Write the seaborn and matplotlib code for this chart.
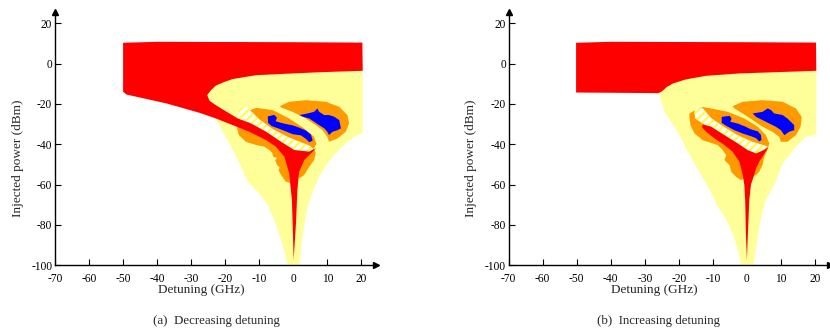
import matplotlib
matplotlib.use("Agg")
import matplotlib.pyplot as plt
import seaborn as sns

sns.set_style("ticks")
plt.rcParams['font.family'] = ['Liberation Serif', 'DejaVu Serif']
plt.rcParams['axes.unicode_minus'] = False
plt.rcParams['hatch.linewidth'] = 1.5

# axis ticks
x_ticks = [-70, -60, -50, -40, -30, -20, -10, 0, 10, 20]
y_ticks = [-100, -80, -60, -40, -20, 0, 20]

# region outlines: (detuning GHz, injected power dBm)
# (a) decreasing detuning
a_yellow = [(-26.0, -20.0), (-26.0, -6.0), (20.4, -2.0), (20.4, -34.6), (18.8, -35.4),
            (15.4, -39.6), (12.5, -44.5), (10.0, -49.5), (7.6, -56.1), (5.7, -63.6),
            (4.2, -71.0), (3.2, -81.0), (2.3, -90.9), (1.8, -100), (-1.7, -100),
            (-2.2, -95.9), (-3.6, -87.6), (-5.6, -77.6), (-7.5, -70.0), (-10.5, -63.6),
            (-13.4, -58.6), (-15.8, -49.5), (-18.8, -39.6), (-21.2, -32.1),
            (-22.7, -27.7), (-24.5, -25.0)]
a_red = [(-50.0, 10.4), (-40.0, 10.9), (0.0, 10.7), (20.3, 10.5), (20.4, -3.5),
         (8.0, -4.2), (-1.2, -4.9), (-11.0, -5.7), (-17.8, -7.6), (-20.2, -9.0),
         (-22.7, -10.8), (-24.1, -13.0), (-25.3, -15.6), (-24.6, -18.4), (-23.1, -20.2),
         (-21.2, -22.2), (-16.3, -27.2), (-12.4, -29.7), (-8.0, -33.8), (-3.6, -38.8),
         (0.3, -42.9), (4.7, -43.7), (6.7, -41.9), (5.3, -44.4), (3.2, -47.9),
         (1.7, -53.8), (1.2, -62.8), (0.8, -79.1), (0.1, -97.5), (-0.1, -84.3),
         (-0.4, -67.7), (-1.2, -54.5), (-2.6, -46.2), (-5.1, -41.2), (-8.0, -37.9),
         (-12.9, -33.8), (-17.8, -30.5), (-22.7, -27.2), (-27.5, -24.4),
         (-37.3, -19.7), (-49.0, -15.3), (-50.0, -13.9)]
a_orange_l = [(-13.9, -23.9), (-10.9, -21.9), (-6.1, -23.0), (-1.2, -27.2), (3.2, -32.1),
              (6.1, -36.3), (6.8, -39.6), (6.1, -42.1), (6.6, -44.5), (6.1, -47.9),
              (4.7, -51.2), (3.2, -55.3), (1.7, -57.0), (0.8, -54.5), (-0.7, -59.4),
              (-2.2, -58.6), (-3.6, -55.3), (-4.3, -53.0), (-4.0, -51.5), (-4.8, -50.3),
              (-5.3, -48.0), (-4.8, -46.8), (-5.9, -46.2), (-6.2, -44.3), (-7.0, -42.9),
              (-8.5, -41.2), (-10.9, -40.4), (-13.9, -38.8), (-16.0, -35.4),
              (-16.5, -32.1), (-15.8, -29.7), (-14.4, -27.2)]
a_orange_r = [(-3.9, -21.0), (-1.2, -18.9), (3.7, -18.1), (9.6, -18.9), (13.5, -21.4),
              (15.9, -25.5), (16.4, -29.7), (15.4, -33.8), (13.0, -37.1), (10.5, -38.8),
              (10.0, -36.3), (8.6, -33.0), (6.6, -30.5), (3.7, -27.2), (-0.2, -23.9),
              (-3.6, -21.7)]
a_hatch = [(-15.8, -20.9), (-13.4, -21.9), (-10.0, -27.6), (-6.1, -32.4), (-1.7, -36.3),
           (2.2, -39.0), (4.7, -40.6), (6.0, -42.3), (4.7, -43.7), (0.3, -42.9),
           (-3.6, -38.8), (-8.0, -33.8), (-12.4, -29.7), (-16.3, -27.2)]
a_blue_l = [(-7.5, -26.2), (-5.6, -25.4), (-4.8, -26.8), (-5.2, -28.6), (-2.6, -29.8),
            (-0.2, -30.6), (1.8, -31.8), (3.7, -33.2), (5.2, -35.2), (5.7, -38.2),
            (4.7, -39.0), (3.7, -37.3), (2.3, -35.6), (-0.2, -35.0), (-2.2, -33.6),
            (-4.3, -32.2), (-6.3, -31.0), (-7.4, -29.4)]
a_blue_r = [(1.8, -25.5), (4.2, -24.7), (6.1, -23.9), (7.1, -22.2), (7.6, -23.9),
            (9.1, -25.5), (10.5, -25.5), (12.0, -26.3), (13.5, -28.0), (14.0, -32.1),
            (13.0, -33.0), (11.5, -33.8), (10.5, -35.4), (10.0, -33.8), (9.1, -32.1),
            (7.6, -30.5), (6.1, -28.8), (4.7, -27.2), (2.8, -26.3)]

# (b) increasing detuning
b_yellow = [(-26.5, -12.0), (-26.5, -6.0), (20.4, -2.0), (20.4, -35.5), (17.3, -36.3),
            (14.4, -41.3), (10.5, -49.5), (8.5, -58.6), (5.5, -68.0), (4.0, -77.7),
            (2.9, -89.3), (2.0, -100), (-1.7, -100), (-2.4, -94.0), (-4.2, -84.3),
            (-6.5, -76.0), (-8.6, -71.0), (-10.5, -64.0), (-12.5, -58.0), (-14.0, -53.7),
            (-17.4, -43.7), (-20.3, -33.8), (-24.2, -23.9), (-25.7, -15.6), (-26.2, -14.4)]
b_red_top = [(-50.2, 10.4), (-40.0, 10.9), (0.0, 10.7), (20.3, 10.5), (20.4, -3.5),
             (8.5, -4.2), (-2.0, -4.8), (-12.0, -6.0), (-18.0, -7.8), (-21.7, -9.8),
             (-23.5, -11.5), (-25.0, -13.8), (-26.0, -14.6), (-50.2, -14.3)]
b_orange_l = [(-16.9, -24.7), (-13.4, -21.4), (-10.5, -22.2), (-5.6, -23.9), (-0.75, -27.2),
              (3.2, -31.3), (5.6, -35.5), (6.6, -39.6), (6.0, -43.0), (5.1, -46.2),
              (4.6, -50.4), (3.6, -53.7), (2.7, -55.3), (1.0, -56.0), (-1.7, -57.8),
              (-3.2, -56.2), (-4.6, -53.7), (-5.1, -50.4), (-6.6, -47.9), (-6.1, -45.4),
              (-7.1, -42.9), (-8.6, -40.4), (-10.0, -39.6), (-13.0, -38.0),
              (-15.4, -34.6), (-16.6, -30.5), (-16.9, -26.4)]
b_orange_r = [(-4.2, -21.1), (-1.25, -18.9), (4.6, -18.1), (10.5, -18.9), (14.4, -22.2),
              (16.1, -26.4), (15.8, -31.3), (14.4, -35.5), (11.9, -38.8), (10.0, -38.8),
              (9.5, -36.3), (7.5, -33.8), (4.6, -31.3), (1.7, -28.0), (-1.25, -24.7),
              (-3.7, -22.2)]
b_hatch = [(-14.4, -20.6), (-12.9, -22.2), (-10.5, -27.0), (-6.6, -31.5), (-2.7, -35.5),
           (1.2, -38.5), (3.6, -39.8), (6.1, -41.0), (4.6, -43.2), (2.7, -44.6),
           (0.2, -42.9), (-2.7, -39.6), (-6.6, -35.5), (-10.5, -31.3), (-12.5, -30.2),
           (-15.2, -27.2), (-15.4, -23.9)]
b_red_in = [(-13.0, -30.2), (-10.5, -31.3), (-6.6, -35.5), (-2.7, -39.6), (0.2, -42.9),
            (2.7, -44.6), (4.6, -43.2), (6.2, -41.8), (4.6, -46.2), (3.6, -48.7),
            (2.7, -52.0), (2.0, -56.0), (1.2, -60.0), (0.7, -67.7), (0.3, -84.3),
            (0.0, -97.6), (-0.3, -84.0), (-0.5, -67.7), (-0.75, -60.3), (-1.2, -55.3),
            (-2.2, -48.7), (-4.2, -43.7), (-6.6, -40.4), (-9.5, -37.1), (-12.0, -33.8),
            (-13.2, -31.5)]
b_blue_l = [(-7.4, -26.4), (-5.1, -25.9), (-4.5, -27.2), (-4.9, -28.8), (-2.7, -29.7),
            (-0.75, -31.0), (1.2, -32.6), (3.2, -33.6), (4.1, -35.3), (4.3, -37.9),
            (3.6, -38.6), (2.7, -37.0), (1.2, -36.0), (-1.2, -34.7), (-3.7, -33.0),
            (-6.1, -30.8), (-7.4, -29.4)]
b_blue_r = [(1.7, -24.7), (4.6, -23.9), (6.1, -22.2), (7.1, -23.0), (8.0, -24.7),
            (10.5, -25.5), (11.9, -27.2), (13.9, -30.5), (13.9, -33.0), (12.4, -33.8),
            (11.0, -35.5), (10.0, -33.0), (8.5, -31.3), (6.6, -29.7), (4.6, -28.0),
            (2.7, -26.4)]

YELLOW = '#ffff99'
RED = '#ff0000'
ORANGE = '#ff9900'
BLUE = '#0000ff'


def region(ax, pts, color, hatch=None):
    xs = [p[0] for p in pts]
    ys = [p[1] for p in pts]
    if hatch:
        ax.fill(xs, ys, facecolor='white', edgecolor='#ffff33', hatch=hatch, linewidth=0)
    else:
        ax.fill(xs, ys, color=color, linewidth=0)


def style_axes(ax):
    ax.set_xlim(-70, 24.3)
    ax.set_ylim(-100, 25.8)
    ax.set_xticks(x_ticks)
    ax.set_yticks(y_ticks)
    ax.set_xticklabels([str(t) for t in x_ticks])
    ax.set_yticklabels([str(t) for t in y_ticks])
    sns.despine(ax=ax)
    for s in ['left', 'bottom']:
        ax.spines[s].set_linewidth(1.0)
        ax.spines[s].set_color('black')
    ax.tick_params(direction='in', length=4, width=0.8, labelsize=8.3, colors='black')
    ax.tick_params(axis='x', pad=6)
    ax.tick_params(axis='y', pad=2)
    ax.plot(1, -100, '>k', ms=4, transform=ax.get_yaxis_transform(), clip_on=False)
    ax.plot(-70, 1, '^k', ms=4, transform=ax.get_xaxis_transform(), clip_on=False)
    ax.set_xlabel('Detuning (GHz)', fontsize=9.5, labelpad=0)
    ax.set_ylabel('Injected power (dBm)', fontsize=9.5)
    ax.xaxis.set_label_coords(0.455, -0.075)
    ax.yaxis.set_label_coords(-0.098, 0.42)
    ax.set_facecolor('white')


fig = plt.figure(figsize=(8.3, 3.28), dpi=100)
ax1 = fig.add_axes([0.0663, 0.192, 0.3867, 0.772])
ax2 = fig.add_axes([0.6129, 0.192, 0.3866, 0.772])

region(ax1, a_yellow, YELLOW)
region(ax1, a_orange_l, ORANGE)
region(ax1, a_orange_r, ORANGE)
region(ax1, a_hatch, None, hatch='////')
region(ax1, a_red, RED)
region(ax1, a_blue_l, BLUE)
region(ax1, a_blue_r, BLUE)

region(ax2, b_yellow, YELLOW)
region(ax2, b_red_top, RED)
region(ax2, b_orange_l, ORANGE)
region(ax2, b_orange_r, ORANGE)
region(ax2, b_hatch, None, hatch='////')
region(ax2, b_red_in, RED)
region(ax2, b_blue_l, BLUE)
region(ax2, b_blue_r, BLUE)

style_axes(ax1)
style_axes(ax2)
ax2.yaxis.set_label_coords(-0.1, 0.42)

fig.text(0.261, 0.021, '(a)  Decreasing detuning', ha='center', va='center', fontsize=9.3)
fig.text(0.793, 0.021, '(b)  Increasing detuning', ha='center', va='center', fontsize=9.3)

fig.savefig('out.png', dpi=100)
